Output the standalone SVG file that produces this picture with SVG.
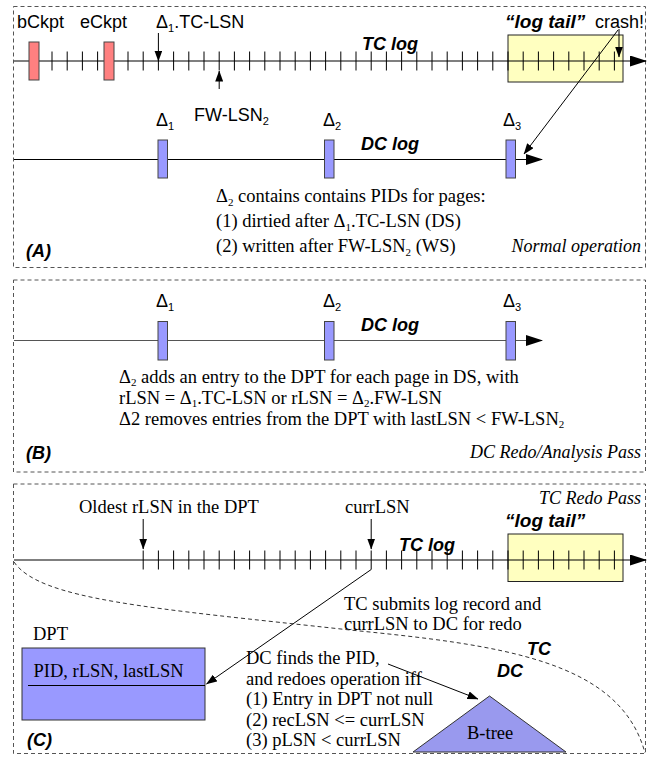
<svg xmlns="http://www.w3.org/2000/svg" width="656" height="760" viewBox="0 0 656 760">
<style>
.frame{fill:none;stroke:#555;stroke-width:1;stroke-dasharray:4 3}
.ax{stroke:#000;stroke-width:1.2;fill:none}
.axg{stroke:#555;stroke-width:1.2;fill:none}
.tick{stroke:#000;stroke-width:1;fill:none}
.ln{stroke:#000;stroke-width:1;fill:none}
.ckpt{fill:#ff8080;stroke:#444;stroke-width:1}
.delta{fill:#9999ff;stroke:#444;stroke-width:1}
.tail{fill:#ffffc0;stroke:#222;stroke-width:1}
.sans{font-family:"Liberation Sans",Arial,sans-serif;font-size:18px;fill:#000}
.bi{font-family:"Liberation Sans",Arial,sans-serif;font-size:18px;font-weight:bold;font-style:italic;fill:#000}
.serif{font-family:"Liberation Serif","Times New Roman",serif;font-size:18.5px;fill:#000}
.si{font-family:"Liberation Serif","Times New Roman",serif;font-size:18px;font-style:italic;fill:#000}
.sub{font-size:11px}
</style>
<defs>
<marker id="big" markerUnits="userSpaceOnUse" viewBox="0 0 17 11" markerWidth="17" markerHeight="11" refX="16" refY="5.5" orient="auto"><path d="M0,0 L17,5.5 L0,11 z" fill="#000"/></marker>
<marker id="sm" markerUnits="userSpaceOnUse" viewBox="0 0 11 8" markerWidth="11" markerHeight="8" refX="10.5" refY="4" orient="auto"><path d="M0,0 L11,4 L0,8 z" fill="#000"/></marker>
</defs>
<rect width="656" height="760" fill="#fff"/>

<!-- Panel frames -->
<g id="panel-A"><rect class="frame" x="13.5" y="6.5" width="632" height="261"/></g>
<g id="panel-B"><rect class="frame" x="13.5" y="280" width="632" height="192"/></g>
<g id="panel-C"><rect class="frame" x="13.5" y="484" width="632" height="269.5"/></g>

<!-- log tail boxes (below axes) -->
<g id="A-tail"><rect class="tail" x="508" y="35" width="115" height="47"/></g>
<g id="C-tail"><rect class="tail" x="508" y="534" width="115" height="47.5"/></g>

<!-- Connectors -->
<g id="connectors">
<path class="ax" d="M14,61H646" marker-end="url(#big)"/>
<path class="ax" d="M14,159.5H542" marker-end="url(#big)"/>
<path class="axg" d="M14,340.5H542" marker-end="url(#big)"/>
<path class="ax" d="M14,560H646" marker-end="url(#big)"/>
<path class="ln" d="M158.4,33V61" marker-end="url(#sm)"/>
<path class="ln" d="M219.2,89V71" marker-end="url(#sm)"/>
<path class="ln" d="M619,29V57" marker-end="url(#sm)"/>
<path class="ln" d="M618,30L524,154" marker-end="url(#sm)"/>
<path class="ln" d="M143.2,519V549" marker-end="url(#sm)"/>
<path class="ln" d="M371.2,519V549" marker-end="url(#sm)"/>
<path class="ln" d="M371.2,569.5L206.5,684" marker-end="url(#sm)"/>
<path class="ln" d="M388,664L478,699" marker-end="url(#sm)"/>
</g>

<!-- Panel A -->
<g id="A-tclog">
<path class="tick" d="M52,51.5V70.5M67.2,51.5V70.5M82.4,51.5V70.5M97.6,51.5V70.5M112.8,51.5V70.5M128,51.5V70.5M143.2,51.5V70.5M158.4,51.5V70.5M173.6,51.5V70.5M188.8,51.5V70.5M204,51.5V70.5M219.2,51.5V70.5M234.4,51.5V70.5M249.6,51.5V70.5M264.8,51.5V70.5M280,51.5V70.5M295.2,51.5V70.5M310.4,51.5V70.5M325.6,51.5V70.5M340.8,51.5V70.5M356,51.5V70.5M371.2,51.5V70.5M386.4,51.5V70.5M401.6,51.5V70.5M416.8,51.5V70.5M432,51.5V70.5M447.2,51.5V70.5M462.4,51.5V70.5M477.6,51.5V70.5M492.8,51.5V70.5M508,51.5V70.5M523.2,51.5V70.5M538.4,51.5V70.5M553.6,51.5V70.5M568.8,51.5V70.5M584,51.5V70.5M599.2,51.5V70.5M614.4,51.5V70.5"/>
<text class="bi" x="362" y="50">TC log</text>
</g>
<g id="A-bckpt"><rect class="ckpt" x="29" y="42" width="10" height="38"/><text class="sans" x="17" y="28">bCkpt</text></g>
<g id="A-eckpt"><rect class="ckpt" x="104" y="42" width="10" height="38"/><text class="sans" x="80" y="28">eCkpt</text></g>
<g id="A-d1tclsn"><text class="sans" x="156" y="28">Δ<tspan class="sub" dy="4">1</tspan><tspan dy="-4">.TC-LSN</tspan></text></g>
<g id="A-fwlsn"><text class="sans" x="194" y="121">FW-LSN<tspan class="sub" dy="4">2</tspan></text></g>
<g id="A-logtail-label"><text class="bi" x="505" y="28" style="font-size:19px">“log tail”</text></g>
<g id="A-crash"><text class="sans" x="595" y="28">crash!</text></g>
<g id="A-dclog"><text class="bi" x="361" y="150">DC log</text></g>
<g id="A-d1"><rect class="delta" x="158" y="140" width="9.5" height="38"/><text class="sans" x="156" y="126">Δ<tspan class="sub" dy="4">1</tspan></text></g>
<g id="A-d2"><rect class="delta" x="324.5" y="140" width="9.5" height="38"/><text class="sans" x="323" y="126">Δ<tspan class="sub" dy="4">2</tspan></text></g>
<g id="A-d3"><rect class="delta" x="506" y="140" width="9.5" height="38"/><text class="sans" x="503" y="126">Δ<tspan class="sub" dy="4">3</tspan></text></g>
<g id="A-note">
<text class="serif" x="216" y="201.7">Δ<tspan class="sub" dy="4">2</tspan><tspan dy="-4"> contains contains PIDs for pages:</tspan></text>
<text class="serif" x="216" y="226.7">(1) dirtied after Δ<tspan class="sub" dy="4">1</tspan><tspan dy="-4">.TC-LSN (DS)</tspan></text>
<text class="serif" x="216" y="251.7">(2) written after FW-LSN<tspan class="sub" dy="4">2</tspan><tspan dy="-4"> (WS)</tspan></text>
</g>
<g id="A-label"><text class="bi" x="26" y="257">(A)</text><text class="si" x="641" y="252" text-anchor="end">Normal operation</text></g>

<!-- Panel B -->
<g id="B-dclog"><text class="bi" x="361" y="331">DC log</text></g>
<g id="B-d1"><rect class="delta" x="158" y="321.5" width="9.5" height="38.5"/><text class="sans" x="156" y="307">Δ<tspan class="sub" dy="4">1</tspan></text></g>
<g id="B-d2"><rect class="delta" x="324.5" y="321.5" width="9.5" height="38.5"/><text class="sans" x="323" y="307">Δ<tspan class="sub" dy="4">2</tspan></text></g>
<g id="B-d3"><rect class="delta" x="506" y="321.5" width="9.5" height="38.5"/><text class="sans" x="503" y="307">Δ<tspan class="sub" dy="4">3</tspan></text></g>
<g id="B-note">
<text class="serif" x="119" y="382.5">Δ<tspan class="sub" dy="3.5">2</tspan><tspan dy="-3.5"> adds an entry to the DPT for each page in DS, with</tspan></text>
<text class="serif" x="119" y="403.5">rLSN = Δ<tspan class="sub" dy="3.5">1</tspan><tspan dy="-3.5">.TC-LSN or rLSN = Δ</tspan><tspan class="sub" dy="3.5">2</tspan><tspan dy="-3.5">.FW-LSN</tspan></text>
<text class="serif" x="119" y="424.5">Δ2 removes entries from the DPT with lastLSN &lt; FW-LSN<tspan class="sub" dy="3.5">2</tspan></text>
</g>
<g id="B-label"><text class="bi" x="26" y="459">(B)</text><text class="si" x="641" y="458" text-anchor="end">DC Redo/Analysis Pass</text></g>

<!-- Panel C -->
<g id="C-label-top"><text class="si" x="641" y="504" text-anchor="end">TC Redo Pass</text></g>
<g id="C-oldest"><text class="serif" x="79" y="512.5">Oldest rLSN in the DPT</text></g>
<g id="C-currlsn"><text class="serif" x="345" y="512.5">currLSN</text></g>
<g id="C-logtail-label"><text class="bi" x="505" y="527" style="font-size:19px">“log tail”</text></g>
<g id="C-tclog">
<path class="tick" d="M143.2,550.5V569.5M158.4,550.5V569.5M173.6,550.5V569.5M188.8,550.5V569.5M204,550.5V569.5M219.2,550.5V569.5M234.4,550.5V569.5M249.6,550.5V569.5M264.8,550.5V569.5M280,550.5V569.5M295.2,550.5V569.5M310.4,550.5V569.5M325.6,550.5V569.5M340.8,550.5V569.5M356,550.5V569.5M371.2,550.5V569.5M386.4,550.5V569.5M401.6,550.5V569.5M416.8,550.5V569.5M432,550.5V569.5M447.2,550.5V569.5M462.4,550.5V569.5M477.6,550.5V569.5M492.8,550.5V569.5M508,550.5V569.5M523.2,550.5V569.5M538.4,550.5V569.5M553.6,550.5V569.5M568.8,550.5V569.5M584,550.5V569.5M599.2,550.5V569.5M614.4,550.5V569.5"/>
<text class="bi" x="399" y="551">TC log</text>
</g>
<g id="C-submit">
<text class="serif" x="344" y="610">TC submits log record and</text>
<text class="serif" x="344" y="630">currLSN to DC for redo</text>
</g>
<g id="C-boundary">
<path d="M14,562 C40,600 150,608 350,630 C500,645 620,660 645,753" fill="none" stroke="#333" stroke-width="1" stroke-dasharray="4 3"/>
<text class="bi" x="527" y="655">TC</text>
<text class="bi" x="497" y="677">DC</text>
</g>
<g id="C-dpt">
<text class="serif" x="33" y="640">DPT</text>
<rect x="22" y="648" width="183" height="72" fill="#9999ff" stroke="#333" stroke-width="1"/>
<path d="M28,685.5H205" stroke="#000" stroke-width="1"/>
<text class="serif" x="33.5" y="676.5">PID, rLSN, lastLSN</text>
</g>
<g id="C-dcfinds">
<text class="serif" x="246" y="664">DC finds the PID,</text>
<text class="serif" x="246" y="684.5">and redoes operation iff</text>
<text class="serif" x="246" y="705">(1) Entry in DPT not null</text>
<text class="serif" x="246" y="725.5">(2) recLSN &lt;= currLSN</text>
<text class="serif" x="246" y="746">(3) pLSN &lt; currLSN</text>
</g>
<g id="C-btree">
<path d="M489.5,696 L566,752 L413,752 Z" fill="#9999ee" stroke="#333" stroke-width="1"/>
<text class="serif" x="467" y="739">B-tree</text>
</g>
<g id="C-label"><text class="bi" x="27" y="746">(C)</text></g>
</svg>
